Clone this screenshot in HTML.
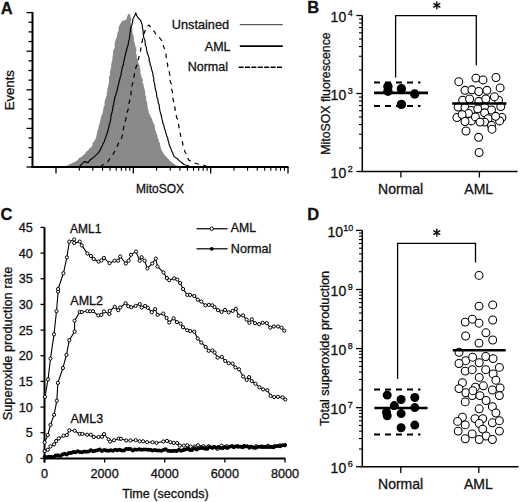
<!DOCTYPE html>
<html><head><meta charset="utf-8"><style>
html,body{margin:0;padding:0;background:#fff;width:520px;height:502px;overflow:hidden}
svg{display:block}
text{font-family:"Liberation Sans", sans-serif;fill:#111;stroke:#111;stroke-width:0.3px}
</style></head><body>
<svg width="520" height="502" viewBox="0 0 520 502">
<rect width="520" height="502" fill="#fff"/>
<text x="0.80" y="13.60" font-size="16.5" text-anchor="start" font-weight="bold" >A</text>
<polygon points="63.00,167.00 64.26,166.40 66.72,165.80 68.00,165.20 69.66,164.52 70.46,163.83 72.09,163.15 73.41,162.47 75.00,161.78 76.20,161.10 77.85,159.98 78.42,158.87 79.68,157.75 81.90,156.63 82.79,155.52 84.20,154.40 85.55,153.24 85.77,152.09 87.31,150.93 88.67,149.77 89.19,148.61 91.03,147.46 91.60,146.30 92.71,144.96 92.43,143.61 93.09,142.27 94.33,140.93 95.44,139.59 95.50,138.24 96.30,136.90 96.37,135.41 96.97,133.92 96.92,132.43 97.50,130.94 98.12,129.46 98.56,127.97 98.65,126.48 99.03,124.99 99.70,123.50 99.83,121.80 100.54,120.10 100.79,118.40 100.93,116.70 101.90,115.00 102.67,113.33 102.76,111.67 103.10,110.00 103.57,108.50 103.39,107.00 104.59,105.50 104.76,104.00 104.27,102.50 105.00,101.00 105.13,99.48 105.86,97.96 106.16,96.44 106.72,94.92 106.46,93.40 107.22,91.88 107.36,90.36 107.26,88.84 107.89,87.32 108.10,85.80 108.75,84.26 108.94,82.72 108.80,81.18 109.12,79.64 108.74,78.10 109.20,76.56 110.04,75.02 109.85,73.48 109.81,71.94 110.40,70.40 110.70,68.86 111.12,67.32 111.34,65.78 111.26,64.24 111.58,62.70 111.91,61.16 112.46,59.62 112.42,58.08 112.53,56.54 112.90,55.00 113.16,53.46 112.92,51.92 113.21,50.38 114.20,48.84 114.78,47.30 114.62,45.76 114.67,44.22 114.70,42.68 115.33,41.14 115.60,39.60 116.66,37.83 116.95,36.05 117.22,34.27 117.70,32.50 118.55,30.70 118.60,28.90 118.91,26.80 119.80,24.70 120.72,23.20 121.60,21.70 123.40,20.50 125.80,19.90 126.90,18.15 127.00,16.40 127.94,15.10 128.70,13.80 130.20,14.50 130.50,17.00 131.15,18.77 131.29,20.55 130.46,22.33 131.10,24.10 130.94,25.72 132.07,27.33 132.26,28.95 132.49,30.57 132.39,32.18 132.90,33.80 133.35,35.46 133.67,37.11 133.98,38.77 133.84,40.43 134.47,42.09 134.75,43.74 135.20,45.40 135.68,47.00 136.21,48.60 136.39,50.20 136.18,51.80 136.31,53.40 136.60,55.00 136.73,56.54 136.85,58.08 137.22,59.62 138.08,61.16 138.30,62.70 138.75,64.24 139.69,65.78 139.67,67.32 140.09,68.86 140.40,70.40 140.42,71.94 140.50,73.48 141.14,75.02 141.24,76.56 141.96,78.10 142.81,79.64 142.76,81.18 142.53,82.72 143.62,84.26 143.50,85.80 144.13,87.32 144.36,88.84 144.85,90.36 144.99,91.88 145.32,93.40 145.14,94.92 146.13,96.44 146.41,97.96 145.83,99.48 146.50,101.00 147.07,102.57 147.31,104.14 147.31,105.71 147.68,107.29 147.92,108.86 148.68,110.43 148.50,112.00 149.14,113.44 150.14,114.88 150.25,116.31 151.47,117.75 152.13,119.19 152.28,120.62 153.04,122.06 153.60,123.50 154.51,124.99 154.74,126.48 154.92,127.97 155.07,129.46 155.63,130.94 156.49,132.43 156.34,133.92 157.60,135.41 157.60,136.90 157.79,138.40 158.94,139.90 158.72,141.40 159.88,142.90 160.05,144.40 160.27,145.90 160.73,147.40 161.32,148.90 161.60,150.40 162.64,151.74 163.27,153.08 164.10,154.42 165.37,155.76 166.30,157.10 167.86,158.18 168.60,159.26 169.07,160.34 170.97,161.42 171.70,162.50 173.32,163.40 174.88,164.30 175.80,165.20 177.19,165.80 179.54,166.40 181.00,167.00" fill="#898989" stroke="none"/>
<polyline points="78.50,167.50 80.50,165.50 82.20,163.60 84.40,161.60 86.00,161.90 87.90,162.70 90.20,160.00 92.02,158.45 94.20,156.90 95.76,155.37 97.18,153.83 98.80,152.30 99.80,150.60 100.74,148.90 101.27,147.20 102.50,145.50 102.98,143.50 104.39,141.50 104.81,139.50 105.80,137.50 106.11,135.75 107.15,134.00 107.28,132.25 108.04,130.50 108.28,128.75 108.90,127.00 109.06,125.25 109.80,123.50 110.24,121.38 110.76,119.25 110.87,117.12 111.20,115.00 112.02,112.50 112.50,110.00 112.96,108.20 112.87,106.40 113.70,104.60 113.92,102.80 114.20,101.00 114.54,99.10 114.82,97.20 115.88,95.30 116.08,93.40 116.73,91.50 117.32,89.60 117.67,87.70 118.00,85.80 118.78,83.88 118.90,81.95 119.67,80.03 119.91,78.10 120.74,76.17 121.19,74.25 121.13,72.33 121.90,70.40 122.07,68.48 122.55,66.55 123.50,64.62 123.56,62.70 124.11,60.78 124.31,58.85 124.88,56.92 125.30,55.00 125.72,53.02 126.20,51.03 126.86,49.05 127.36,47.07 128.08,45.08 128.30,43.10 128.73,41.24 129.20,39.38 129.45,37.52 129.84,35.66 129.80,33.80 130.39,31.50 130.50,29.20 131.20,26.90 131.88,24.88 132.38,22.85 132.76,20.82 132.90,18.80 134.50,16.00 135.80,13.10 137.00,16.00 138.00,17.70 140.40,20.00 141.30,22.30 142.10,24.60 142.49,26.44 142.38,28.28 143.05,30.12 143.11,31.96 143.30,33.80 143.53,35.74 143.75,37.68 144.69,39.62 145.16,41.56 145.20,43.50 145.38,45.42 146.34,47.33 146.54,49.25 146.82,51.17 147.39,53.08 148.00,55.00 148.68,56.92 149.24,58.85 149.14,60.78 150.03,62.70 150.12,64.62 151.08,66.55 151.29,68.48 151.90,70.40 152.55,72.33 153.01,74.25 153.07,76.17 153.80,78.10 153.70,80.03 153.93,81.95 154.68,83.88 155.00,85.80 155.05,87.70 155.54,89.60 156.06,91.50 156.58,93.40 156.63,95.30 156.93,97.20 157.88,99.10 158.00,101.00 158.23,102.80 159.04,104.60 159.36,106.40 159.35,108.20 159.80,110.00 160.23,111.93 160.73,113.86 161.27,115.79 161.70,117.71 162.13,119.64 162.63,121.57 163.00,123.50 163.86,125.28 164.10,127.07 164.60,128.85 165.35,130.63 165.57,132.42 166.30,134.20 166.70,136.08 167.71,137.96 167.93,139.84 168.49,141.72 169.00,143.60 169.33,145.34 170.28,147.09 171.07,148.83 171.35,150.57 172.44,152.31 173.12,154.06 173.70,155.80 174.92,157.12 176.84,158.45 178.25,159.78 179.80,161.10 181.93,162.80 183.80,164.50 185.75,165.00 187.90,165.50 190.00,167.00" fill="none" stroke="#000" stroke-width="1.15"/>
<polyline points="100.00,167.00 102.40,165.20 103.74,164.17 105.17,163.15 106.90,162.12 108.50,161.10 109.22,159.57 110.11,158.04 111.30,156.51 112.62,154.99 113.50,153.46 114.43,151.93 115.20,150.40 115.84,148.71 116.90,147.03 117.56,145.34 118.32,143.65 119.11,141.96 120.03,140.28 121.36,138.59 121.90,136.90 122.52,134.99 122.89,133.07 123.27,131.16 123.23,129.24 123.70,127.33 124.30,125.41 124.60,123.50 125.24,121.38 125.80,119.25 126.29,117.12 126.50,115.00 126.96,112.50 128.00,110.00 128.39,108.20 128.76,106.40 128.96,104.60 129.05,102.80 129.60,101.00 129.87,99.10 129.89,97.20 130.77,95.30 131.01,93.40 131.07,91.50 131.19,89.60 131.90,87.70 131.90,85.80 132.38,83.88 133.02,81.95 133.42,80.03 133.61,78.10 133.96,76.17 134.52,74.25 134.83,72.33 135.30,70.40 135.60,68.48 136.24,66.55 137.13,64.62 137.13,62.70 137.67,60.78 138.61,58.85 138.91,56.92 139.60,55.00 140.07,52.83 140.48,50.65 140.84,48.47 141.40,46.30 142.09,44.42 141.87,42.54 142.36,40.66 142.55,38.78 143.10,36.90 143.79,35.08 144.14,33.25 144.80,31.43 145.50,29.60 147.00,26.50 148.90,25.00 151.00,27.50 153.30,30.20 154.54,31.80 155.31,33.40 156.50,35.00 158.10,35.80 159.34,37.40 160.50,39.00 161.88,40.85 162.70,42.70 163.00,44.54 163.55,46.38 164.25,48.22 165.21,50.06 165.60,51.90 166.01,54.02 166.07,56.15 166.46,58.27 166.90,60.40 167.05,62.40 167.63,64.40 167.72,66.40 168.56,68.40 168.80,70.40 169.38,72.33 169.72,74.25 169.86,76.17 170.32,78.10 169.96,80.03 170.45,81.95 171.23,83.88 171.20,85.80 171.68,87.70 171.71,89.60 172.37,91.50 172.43,93.40 172.86,95.30 172.78,97.20 173.00,99.10 173.50,101.00 173.78,102.80 173.89,104.60 174.38,106.40 175.10,108.20 175.10,110.00 175.47,111.93 175.73,113.86 176.24,115.79 176.81,117.71 177.73,119.64 177.92,121.57 178.50,123.50 178.72,125.41 178.96,127.33 179.95,129.24 179.93,131.16 180.15,133.07 180.42,134.99 181.10,136.90 181.27,138.83 181.84,140.76 182.68,142.69 182.80,144.61 183.21,146.54 184.01,148.47 184.50,150.40 185.12,152.28 186.45,154.16 186.64,156.04 187.72,157.92 188.50,159.80 190.69,161.15 192.50,162.50 194.19,163.00 196.00,163.50 198.34,164.00 200.00,164.50 201.98,164.90 204.00,165.30 205.82,166.15 208.00,167.00" fill="none" stroke="#000" stroke-width="1.2" stroke-dasharray="4.5,4.5"/>
<line x1="32.50" y1="12.00" x2="32.50" y2="168.00" stroke="#000" stroke-width="2" />
<line x1="31.50" y1="167.00" x2="288.50" y2="167.00" stroke="#000" stroke-width="2" />
<line x1="26.50" y1="12.60" x2="32.50" y2="12.60" stroke="#000" stroke-width="1.3" />
<line x1="28.50" y1="22.25" x2="32.50" y2="22.25" stroke="#000" stroke-width="1.3" />
<line x1="28.50" y1="31.90" x2="32.50" y2="31.90" stroke="#000" stroke-width="1.3" />
<line x1="28.50" y1="41.55" x2="32.50" y2="41.55" stroke="#000" stroke-width="1.3" />
<line x1="26.50" y1="51.20" x2="32.50" y2="51.20" stroke="#000" stroke-width="1.3" />
<line x1="28.50" y1="60.85" x2="32.50" y2="60.85" stroke="#000" stroke-width="1.3" />
<line x1="28.50" y1="70.50" x2="32.50" y2="70.50" stroke="#000" stroke-width="1.3" />
<line x1="28.50" y1="80.15" x2="32.50" y2="80.15" stroke="#000" stroke-width="1.3" />
<line x1="26.50" y1="89.80" x2="32.50" y2="89.80" stroke="#000" stroke-width="1.3" />
<line x1="28.50" y1="99.45" x2="32.50" y2="99.45" stroke="#000" stroke-width="1.3" />
<line x1="28.50" y1="109.10" x2="32.50" y2="109.10" stroke="#000" stroke-width="1.3" />
<line x1="28.50" y1="118.75" x2="32.50" y2="118.75" stroke="#000" stroke-width="1.3" />
<line x1="26.50" y1="128.40" x2="32.50" y2="128.40" stroke="#000" stroke-width="1.3" />
<line x1="28.50" y1="138.05" x2="32.50" y2="138.05" stroke="#000" stroke-width="1.3" />
<line x1="28.50" y1="147.70" x2="32.50" y2="147.70" stroke="#000" stroke-width="1.3" />
<line x1="28.50" y1="157.35" x2="32.50" y2="157.35" stroke="#000" stroke-width="1.3" />
<line x1="26.50" y1="167.00" x2="32.50" y2="167.00" stroke="#000" stroke-width="1.3" />
<line x1="56.00" y1="167.00" x2="56.00" y2="173.50" stroke="#000" stroke-width="1.3" />
<line x1="79.28" y1="167.00" x2="79.28" y2="170.80" stroke="#000" stroke-width="1.1" />
<line x1="92.90" y1="167.00" x2="92.90" y2="170.80" stroke="#000" stroke-width="1.1" />
<line x1="102.56" y1="167.00" x2="102.56" y2="170.80" stroke="#000" stroke-width="1.1" />
<line x1="110.05" y1="167.00" x2="110.05" y2="170.80" stroke="#000" stroke-width="1.1" />
<line x1="116.18" y1="167.00" x2="116.18" y2="170.80" stroke="#000" stroke-width="1.1" />
<line x1="121.35" y1="167.00" x2="121.35" y2="170.80" stroke="#000" stroke-width="1.1" />
<line x1="125.84" y1="167.00" x2="125.84" y2="170.80" stroke="#000" stroke-width="1.1" />
<line x1="129.79" y1="167.00" x2="129.79" y2="170.80" stroke="#000" stroke-width="1.1" />
<line x1="133.33" y1="167.00" x2="133.33" y2="173.50" stroke="#000" stroke-width="1.3" />
<line x1="156.61" y1="167.00" x2="156.61" y2="170.80" stroke="#000" stroke-width="1.1" />
<line x1="170.23" y1="167.00" x2="170.23" y2="170.80" stroke="#000" stroke-width="1.1" />
<line x1="179.89" y1="167.00" x2="179.89" y2="170.80" stroke="#000" stroke-width="1.1" />
<line x1="187.39" y1="167.00" x2="187.39" y2="170.80" stroke="#000" stroke-width="1.1" />
<line x1="193.51" y1="167.00" x2="193.51" y2="170.80" stroke="#000" stroke-width="1.1" />
<line x1="198.69" y1="167.00" x2="198.69" y2="170.80" stroke="#000" stroke-width="1.1" />
<line x1="203.17" y1="167.00" x2="203.17" y2="170.80" stroke="#000" stroke-width="1.1" />
<line x1="207.13" y1="167.00" x2="207.13" y2="170.80" stroke="#000" stroke-width="1.1" />
<line x1="210.67" y1="167.00" x2="210.67" y2="173.50" stroke="#000" stroke-width="1.3" />
<line x1="233.95" y1="167.00" x2="233.95" y2="170.80" stroke="#000" stroke-width="1.1" />
<line x1="247.56" y1="167.00" x2="247.56" y2="170.80" stroke="#000" stroke-width="1.1" />
<line x1="257.23" y1="167.00" x2="257.23" y2="170.80" stroke="#000" stroke-width="1.1" />
<line x1="264.72" y1="167.00" x2="264.72" y2="170.80" stroke="#000" stroke-width="1.1" />
<line x1="270.84" y1="167.00" x2="270.84" y2="170.80" stroke="#000" stroke-width="1.1" />
<line x1="276.02" y1="167.00" x2="276.02" y2="170.80" stroke="#000" stroke-width="1.1" />
<line x1="280.51" y1="167.00" x2="280.51" y2="170.80" stroke="#000" stroke-width="1.1" />
<line x1="284.46" y1="167.00" x2="284.46" y2="170.80" stroke="#000" stroke-width="1.1" />
<line x1="288.00" y1="167.00" x2="288.00" y2="173.50" stroke="#000" stroke-width="1.3" />
<text x="160.00" y="193.00" font-size="12" text-anchor="middle" font-weight="normal" >MitoSOX</text>
<text x="13.90" y="90.20" font-size="13.2" text-anchor="middle" font-weight="normal" transform="rotate(-90 13.9 90.2)">Events</text>
<text x="229.00" y="29.00" font-size="12.7" text-anchor="end" font-weight="normal" >Unstained</text>
<text x="230.50" y="50.50" font-size="12.5" text-anchor="end" font-weight="normal" >AML</text>
<text x="228.00" y="71.20" font-size="12.5" text-anchor="end" font-weight="normal" >Normal</text>
<line x1="239.80" y1="24.60" x2="282.80" y2="24.60" stroke="#5a5a5a" stroke-width="1.3" />
<line x1="239.80" y1="46.10" x2="282.80" y2="46.10" stroke="#000" stroke-width="1.7" />
<line x1="238.60" y1="67.30" x2="282.30" y2="67.30" stroke="#000" stroke-width="1.6" stroke-dasharray="5,1.4"/>
<text x="307.30" y="13.40" font-size="16.5" text-anchor="start" font-weight="bold" >B</text>
<line x1="362.30" y1="15.50" x2="362.30" y2="172.10" stroke="#000" stroke-width="1.5" />
<line x1="356.30" y1="171.50" x2="362.30" y2="171.50" stroke="#000" stroke-width="1.3" />
<text x="346.20" y="178.00" font-size="14" text-anchor="end" font-weight="normal" >10</text>
<text x="347.80" y="172.20" font-size="9" text-anchor="start" font-weight="normal" >2</text>
<line x1="356.30" y1="93.50" x2="362.30" y2="93.50" stroke="#000" stroke-width="1.3" />
<text x="346.20" y="100.00" font-size="14" text-anchor="end" font-weight="normal" >10</text>
<text x="347.80" y="94.20" font-size="9" text-anchor="start" font-weight="normal" >3</text>
<line x1="356.30" y1="15.50" x2="362.30" y2="15.50" stroke="#000" stroke-width="1.3" />
<text x="346.20" y="22.00" font-size="14" text-anchor="end" font-weight="normal" >10</text>
<text x="347.80" y="16.20" font-size="9" text-anchor="start" font-weight="normal" >4</text>
<line x1="359.00" y1="148.02" x2="362.30" y2="148.02" stroke="#000" stroke-width="1.1" />
<line x1="359.00" y1="134.28" x2="362.30" y2="134.28" stroke="#000" stroke-width="1.1" />
<line x1="359.00" y1="124.54" x2="362.30" y2="124.54" stroke="#000" stroke-width="1.1" />
<line x1="359.00" y1="116.98" x2="362.30" y2="116.98" stroke="#000" stroke-width="1.1" />
<line x1="359.00" y1="110.80" x2="362.30" y2="110.80" stroke="#000" stroke-width="1.1" />
<line x1="359.00" y1="105.58" x2="362.30" y2="105.58" stroke="#000" stroke-width="1.1" />
<line x1="359.00" y1="101.06" x2="362.30" y2="101.06" stroke="#000" stroke-width="1.1" />
<line x1="359.00" y1="97.07" x2="362.30" y2="97.07" stroke="#000" stroke-width="1.1" />
<line x1="359.00" y1="70.02" x2="362.30" y2="70.02" stroke="#000" stroke-width="1.1" />
<line x1="359.00" y1="56.28" x2="362.30" y2="56.28" stroke="#000" stroke-width="1.1" />
<line x1="359.00" y1="46.54" x2="362.30" y2="46.54" stroke="#000" stroke-width="1.1" />
<line x1="359.00" y1="38.98" x2="362.30" y2="38.98" stroke="#000" stroke-width="1.1" />
<line x1="359.00" y1="32.80" x2="362.30" y2="32.80" stroke="#000" stroke-width="1.1" />
<line x1="359.00" y1="27.58" x2="362.30" y2="27.58" stroke="#000" stroke-width="1.1" />
<line x1="359.00" y1="23.06" x2="362.30" y2="23.06" stroke="#000" stroke-width="1.1" />
<line x1="359.00" y1="19.07" x2="362.30" y2="19.07" stroke="#000" stroke-width="1.1" />
<line x1="361.50" y1="171.50" x2="517.50" y2="171.50" stroke="#000" stroke-width="1.5" />
<line x1="400.90" y1="171.50" x2="400.90" y2="177.50" stroke="#000" stroke-width="1.3" />
<line x1="479.40" y1="171.50" x2="479.40" y2="177.50" stroke="#000" stroke-width="1.3" />
<text x="400.60" y="193.80" font-size="14" text-anchor="middle" font-weight="normal" >Normal</text>
<text x="478.70" y="193.80" font-size="14" text-anchor="middle" font-weight="normal" >AML</text>
<text x="329.50" y="93.50" font-size="12.3" text-anchor="middle" font-weight="normal" transform="rotate(-90 329.5 93.5)">MitoSOX fluorescence</text>
<polyline points="395.6,77.5 395.6,15.6 476.3,15.6 476.3,65.3" fill="none" stroke="#000" stroke-width="1.3"/>
<line x1="436.80" y1="1.90" x2="436.80" y2="8.70" stroke="#111" stroke-width="1.5" stroke-linecap="round"/>
<line x1="433.86" y1="3.60" x2="439.74" y2="7.00" stroke="#111" stroke-width="1.5" stroke-linecap="round"/>
<line x1="433.86" y1="7.00" x2="439.74" y2="3.60" stroke="#111" stroke-width="1.5" stroke-linecap="round"/>
<line x1="374.00" y1="82.50" x2="420.50" y2="82.50" stroke="#000" stroke-width="2" stroke-dasharray="6,5"/>
<line x1="374.00" y1="105.90" x2="420.50" y2="105.90" stroke="#000" stroke-width="2" stroke-dasharray="6,5"/>
<line x1="374.00" y1="92.90" x2="428.00" y2="92.90" stroke="#000" stroke-width="2.6" />
<circle cx="387.9" cy="86.5" r="4.7" fill="#000"/>
<circle cx="387.9" cy="91.2" r="4.7" fill="#000"/>
<circle cx="401.4" cy="88.8" r="4.7" fill="#000"/>
<circle cx="414.7" cy="94" r="4.7" fill="#000"/>
<circle cx="401.4" cy="104.4" r="4.7" fill="#000"/>
<circle cx="462.7" cy="100.2" r="3.95" fill="#fff" stroke="#000" stroke-width="1.05"/>
<circle cx="469.6" cy="99" r="3.95" fill="#fff" stroke="#000" stroke-width="1.05"/>
<circle cx="478.8" cy="101.3" r="3.95" fill="#fff" stroke="#000" stroke-width="1.05"/>
<circle cx="485.8" cy="99" r="3.95" fill="#fff" stroke="#000" stroke-width="1.05"/>
<circle cx="498.5" cy="100.2" r="3.95" fill="#fff" stroke="#000" stroke-width="1.05"/>
<circle cx="458.1" cy="107.1" r="3.95" fill="#fff" stroke="#000" stroke-width="1.05"/>
<circle cx="465" cy="107.7" r="3.95" fill="#fff" stroke="#000" stroke-width="1.05"/>
<circle cx="471.3" cy="110.5" r="3.95" fill="#fff" stroke="#000" stroke-width="1.05"/>
<circle cx="484.6" cy="107.1" r="3.95" fill="#fff" stroke="#000" stroke-width="1.05"/>
<circle cx="491.5" cy="110" r="3.95" fill="#fff" stroke="#000" stroke-width="1.05"/>
<circle cx="500.8" cy="106.5" r="3.95" fill="#fff" stroke="#000" stroke-width="1.05"/>
<circle cx="456.9" cy="117.5" r="3.95" fill="#fff" stroke="#000" stroke-width="1.05"/>
<circle cx="468.5" cy="113.4" r="3.95" fill="#fff" stroke="#000" stroke-width="1.05"/>
<circle cx="484.6" cy="112.8" r="3.95" fill="#fff" stroke="#000" stroke-width="1.05"/>
<circle cx="488.1" cy="118.6" r="3.95" fill="#fff" stroke="#000" stroke-width="1.05"/>
<circle cx="501.9" cy="117.5" r="3.95" fill="#fff" stroke="#000" stroke-width="1.05"/>
<circle cx="471.3" cy="120.9" r="3.95" fill="#fff" stroke="#000" stroke-width="1.05"/>
<circle cx="484.6" cy="122.1" r="3.95" fill="#fff" stroke="#000" stroke-width="1.05"/>
<circle cx="499.6" cy="120.9" r="3.95" fill="#fff" stroke="#000" stroke-width="1.05"/>
<circle cx="458.8" cy="81.7" r="3.95" fill="#fff" stroke="#000" stroke-width="1.05"/>
<circle cx="475.9" cy="78.1" r="3.95" fill="#fff" stroke="#000" stroke-width="1.05"/>
<circle cx="483" cy="79.9" r="3.95" fill="#fff" stroke="#000" stroke-width="1.05"/>
<circle cx="496" cy="77.5" r="3.95" fill="#fff" stroke="#000" stroke-width="1.05"/>
<circle cx="500.1" cy="87.9" r="3.95" fill="#fff" stroke="#000" stroke-width="1.05"/>
<circle cx="465" cy="90.3" r="3.95" fill="#fff" stroke="#000" stroke-width="1.05"/>
<circle cx="471.9" cy="89.8" r="3.95" fill="#fff" stroke="#000" stroke-width="1.05"/>
<circle cx="478.8" cy="91.5" r="3.95" fill="#fff" stroke="#000" stroke-width="1.05"/>
<circle cx="486.9" cy="90.3" r="3.95" fill="#fff" stroke="#000" stroke-width="1.05"/>
<circle cx="494.4" cy="96.7" r="3.95" fill="#fff" stroke="#000" stroke-width="1.05"/>
<circle cx="477.7" cy="108.8" r="3.95" fill="#fff" stroke="#000" stroke-width="1.05"/>
<circle cx="462.1" cy="114.6" r="3.95" fill="#fff" stroke="#000" stroke-width="1.05"/>
<circle cx="475.4" cy="116.9" r="3.95" fill="#fff" stroke="#000" stroke-width="1.05"/>
<circle cx="495.6" cy="116.3" r="3.95" fill="#fff" stroke="#000" stroke-width="1.05"/>
<circle cx="465" cy="121.5" r="3.95" fill="#fff" stroke="#000" stroke-width="1.05"/>
<circle cx="480" cy="122.1" r="3.95" fill="#fff" stroke="#000" stroke-width="1.05"/>
<circle cx="491.5" cy="125.5" r="3.95" fill="#fff" stroke="#000" stroke-width="1.05"/>
<circle cx="466" cy="131" r="3.95" fill="#fff" stroke="#000" stroke-width="1.05"/>
<circle cx="492" cy="129.2" r="3.95" fill="#fff" stroke="#000" stroke-width="1.05"/>
<circle cx="478.6" cy="137.3" r="3.95" fill="#fff" stroke="#000" stroke-width="1.05"/>
<circle cx="479.1" cy="152.5" r="3.95" fill="#fff" stroke="#000" stroke-width="1.05"/>
<line x1="452.20" y1="103.50" x2="506.40" y2="103.50" stroke="#000" stroke-width="2.6" />
<text x="0.60" y="220.30" font-size="16.5" text-anchor="start" font-weight="bold" >C</text>
<line x1="44.50" y1="227.40" x2="44.50" y2="462.50" stroke="#000" stroke-width="2" />
<line x1="43.50" y1="458.40" x2="285.40" y2="458.40" stroke="#000" stroke-width="2" />
<line x1="40.50" y1="458.40" x2="44.50" y2="458.40" stroke="#000" stroke-width="1.3" />
<text x="32.80" y="462.90" font-size="12.7" text-anchor="end" font-weight="normal" >0</text>
<line x1="40.50" y1="432.73" x2="44.50" y2="432.73" stroke="#000" stroke-width="1.3" />
<text x="32.80" y="437.23" font-size="12.7" text-anchor="end" font-weight="normal" >5</text>
<line x1="40.50" y1="407.07" x2="44.50" y2="407.07" stroke="#000" stroke-width="1.3" />
<text x="32.80" y="411.57" font-size="12.7" text-anchor="end" font-weight="normal" >10</text>
<line x1="40.50" y1="381.40" x2="44.50" y2="381.40" stroke="#000" stroke-width="1.3" />
<text x="32.80" y="385.90" font-size="12.7" text-anchor="end" font-weight="normal" >15</text>
<line x1="40.50" y1="355.74" x2="44.50" y2="355.74" stroke="#000" stroke-width="1.3" />
<text x="32.80" y="360.24" font-size="12.7" text-anchor="end" font-weight="normal" >20</text>
<line x1="40.50" y1="330.07" x2="44.50" y2="330.07" stroke="#000" stroke-width="1.3" />
<text x="32.80" y="334.57" font-size="12.7" text-anchor="end" font-weight="normal" >25</text>
<line x1="40.50" y1="304.41" x2="44.50" y2="304.41" stroke="#000" stroke-width="1.3" />
<text x="32.80" y="308.91" font-size="12.7" text-anchor="end" font-weight="normal" >30</text>
<line x1="40.50" y1="278.75" x2="44.50" y2="278.75" stroke="#000" stroke-width="1.3" />
<text x="32.80" y="283.25" font-size="12.7" text-anchor="end" font-weight="normal" >35</text>
<line x1="40.50" y1="253.08" x2="44.50" y2="253.08" stroke="#000" stroke-width="1.3" />
<text x="32.80" y="257.58" font-size="12.7" text-anchor="end" font-weight="normal" >40</text>
<line x1="40.50" y1="227.41" x2="44.50" y2="227.41" stroke="#000" stroke-width="1.3" />
<text x="32.80" y="231.91" font-size="12.7" text-anchor="end" font-weight="normal" >45</text>
<line x1="44.50" y1="458.40" x2="44.50" y2="462.50" stroke="#000" stroke-width="1.3" />
<text x="44.50" y="477.50" font-size="12.7" text-anchor="middle" font-weight="normal" >0</text>
<line x1="104.62" y1="458.40" x2="104.62" y2="462.50" stroke="#000" stroke-width="1.3" />
<text x="104.62" y="477.50" font-size="12.7" text-anchor="middle" font-weight="normal" >2000</text>
<line x1="164.75" y1="458.40" x2="164.75" y2="462.50" stroke="#000" stroke-width="1.3" />
<text x="164.75" y="477.50" font-size="12.7" text-anchor="middle" font-weight="normal" >4000</text>
<line x1="224.88" y1="458.40" x2="224.88" y2="462.50" stroke="#000" stroke-width="1.3" />
<text x="224.88" y="477.50" font-size="12.7" text-anchor="middle" font-weight="normal" >6000</text>
<line x1="285.00" y1="458.40" x2="285.00" y2="462.50" stroke="#000" stroke-width="1.3" />
<text x="285.00" y="477.50" font-size="12.7" text-anchor="middle" font-weight="normal" >8000</text>
<text x="165.50" y="497.80" font-size="12.6" text-anchor="middle" font-weight="normal" >Time (seconds)</text>
<text x="12.00" y="343.50" font-size="12.8" text-anchor="middle" font-weight="normal" transform="rotate(-90 12 343.5)">Superoxide production rate</text>
<text x="70.00" y="232.60" font-size="12" text-anchor="start" font-weight="normal" >AML1</text>
<text x="70.30" y="304.60" font-size="12.5" text-anchor="start" font-weight="normal" >AML2</text>
<text x="70.50" y="423.10" font-size="12.5" text-anchor="start" font-weight="normal" >AML3</text>
<line x1="196.50" y1="228.75" x2="227.60" y2="228.75" stroke="#000" stroke-width="1.2" />
<circle cx="211.7" cy="228.75" r="1.7" fill="#fff" stroke="#000" stroke-width="1"/>
<text x="230.80" y="232.30" font-size="12.3" text-anchor="start" font-weight="normal" >AML</text>
<line x1="196.50" y1="248.80" x2="227.60" y2="248.80" stroke="#000" stroke-width="1.2" />
<circle cx="211.7" cy="248.8" r="1.9" fill="#000"/>
<text x="230.80" y="253.10" font-size="12.6" text-anchor="start" font-weight="normal" >Normal</text>
<polyline points="45.00,396.90 48.00,379.50 50.50,358.60 54.00,334.40 56.50,311.20 58.10,291.70 58.10,289.00 63.40,273.30 66.90,257.40 69.30,241.60 74.20,239.50 74.20,243.00 79.70,241.60 81.80,245.40 87.40,253.50 90.90,256.00 93.70,259.00 98.60,261.60 101.40,260.40 103.90,257.90 109.50,263.20 114.60,260.70 118.10,260.70 120.20,256.50 125.80,263.50 128.60,260.70 131.00,254.80 136.00,251.60 139.70,260.70 141.60,257.20 144.60,260.70 147.40,268.40 152.30,263.50 155.80,258.60 157.50,266.50 163.50,272.50 166.90,278.10 169.20,280.20 174.10,278.40 177.30,279.50 180.10,283.00 183.10,289.00 187.30,294.90 190.10,294.90 194.30,296.00 197.80,299.70 201.30,301.60 205.40,305.30 208.90,304.90 212.40,305.30 214.50,307.10 218.00,310.20 221.50,311.90 225.00,309.90 228.70,312.30 232.70,310.90 235.90,308.80 238.70,315.80 243.10,315.40 246.60,319.60 249.40,322.80 251.80,319.30 255.00,323.20 259.20,324.20 262.70,322.80 266.80,323.20 270.30,327.70 273.80,326.50 278.00,326.50 281.50,327.70 284.30,330.70" fill="none" stroke="#000" stroke-width="1.1"/>
<polyline points="44.70,442.40 47.80,435.00 50.50,424.90 54.10,414.80 56.80,400.70 57.90,382.90 62.90,368.00 66.50,354.90 69.30,340.20 74.60,331.60 74.60,320.70 79.70,312.00 81.80,312.00 87.40,311.20 90.20,311.20 93.00,311.20 98.30,315.40 101.30,314.90 104.00,311.50 109.40,314.00 109.70,310.90 114.80,306.80 118.20,310.20 120.20,307.50 125.60,303.20 128.30,306.20 131.20,307.20 135.70,305.90 139.70,304.10 141.70,307.50 145.10,305.90 147.80,307.80 151.80,312.20 155.20,309.10 157.60,314.90 163.30,313.60 166.60,318.00 169.20,322.50 173.60,318.30 176.90,322.10 180.60,323.60 183.00,327.20 187.20,330.20 190.20,331.00 194.30,331.70 197.70,338.50 201.30,342.50 205.70,346.90 208.70,350.80 212.30,350.50 214.60,352.50 217.60,357.60 221.80,357.00 225.20,360.90 228.70,363.20 232.60,363.60 235.40,367.50 239.00,369.30 243.10,376.50 246.70,379.90 249.10,377.10 251.70,381.00 255.50,383.70 259.50,387.30 263.10,389.40 267.30,390.20 270.60,395.90 274.20,397.10 278.00,396.80 282.60,397.40 285.30,399.50" fill="none" stroke="#000" stroke-width="1.1"/>
<polyline points="44.70,451.10 47.80,449.80 50.50,446.40 54.10,444.40 56.20,441.00 58.80,438.40 63.60,435.70 66.90,435.00 69.30,430.30 74.70,430.70 79.70,433.90 82.40,433.90 87.10,434.70 90.90,434.70 93.80,437.00 98.50,437.00 102.00,436.80 104.00,434.10 108.70,439.50 110.10,441.50 114.10,440.20 118.80,438.60 121.00,438.80 126.20,440.50 130.30,440.50 135.70,440.20 139.70,441.30 143.10,441.30 147.10,442.20 152.50,442.20 156.50,442.90 163.30,441.50 167.00,440.90 170.40,442.20 173.70,442.90 177.10,443.10 179.80,445.60 183.80,445.60 187.20,445.30 190.60,446.60 194.60,446.60 198.00,445.30 203.40,446.20 208.70,446.20 212.80,447.60 217.50,448.90 221.50,445.60 226.90,446.20 232.30,446.20 238.00,446.50 244.00,446.00 250.00,446.80 256.00,446.20 262.00,446.50 268.00,445.80 274.00,446.40 280.00,445.50 285.00,445.20" fill="none" stroke="#000" stroke-width="1.1"/>
<circle cx="45.00" cy="396.90" r="1.6" fill="#fff" stroke="#000" stroke-width="1"/>
<circle cx="48.00" cy="379.50" r="1.6" fill="#fff" stroke="#000" stroke-width="1"/>
<circle cx="50.50" cy="358.60" r="1.6" fill="#fff" stroke="#000" stroke-width="1"/>
<circle cx="54.00" cy="334.40" r="1.6" fill="#fff" stroke="#000" stroke-width="1"/>
<circle cx="56.50" cy="311.20" r="1.6" fill="#fff" stroke="#000" stroke-width="1"/>
<circle cx="58.10" cy="291.70" r="1.6" fill="#fff" stroke="#000" stroke-width="1"/>
<circle cx="58.10" cy="289.00" r="1.6" fill="#fff" stroke="#000" stroke-width="1"/>
<circle cx="63.40" cy="273.30" r="1.6" fill="#fff" stroke="#000" stroke-width="1"/>
<circle cx="66.90" cy="257.40" r="1.6" fill="#fff" stroke="#000" stroke-width="1"/>
<circle cx="69.30" cy="241.60" r="1.6" fill="#fff" stroke="#000" stroke-width="1"/>
<circle cx="74.20" cy="239.50" r="1.6" fill="#fff" stroke="#000" stroke-width="1"/>
<circle cx="74.20" cy="243.00" r="1.6" fill="#fff" stroke="#000" stroke-width="1"/>
<circle cx="79.70" cy="241.60" r="1.6" fill="#fff" stroke="#000" stroke-width="1"/>
<circle cx="81.80" cy="245.40" r="1.6" fill="#fff" stroke="#000" stroke-width="1"/>
<circle cx="87.40" cy="253.50" r="1.6" fill="#fff" stroke="#000" stroke-width="1"/>
<circle cx="90.90" cy="256.00" r="1.6" fill="#fff" stroke="#000" stroke-width="1"/>
<circle cx="93.70" cy="259.00" r="1.6" fill="#fff" stroke="#000" stroke-width="1"/>
<circle cx="98.60" cy="261.60" r="1.6" fill="#fff" stroke="#000" stroke-width="1"/>
<circle cx="101.40" cy="260.40" r="1.6" fill="#fff" stroke="#000" stroke-width="1"/>
<circle cx="103.90" cy="257.90" r="1.6" fill="#fff" stroke="#000" stroke-width="1"/>
<circle cx="109.50" cy="263.20" r="1.6" fill="#fff" stroke="#000" stroke-width="1"/>
<circle cx="114.60" cy="260.70" r="1.6" fill="#fff" stroke="#000" stroke-width="1"/>
<circle cx="118.10" cy="260.70" r="1.6" fill="#fff" stroke="#000" stroke-width="1"/>
<circle cx="120.20" cy="256.50" r="1.6" fill="#fff" stroke="#000" stroke-width="1"/>
<circle cx="125.80" cy="263.50" r="1.6" fill="#fff" stroke="#000" stroke-width="1"/>
<circle cx="128.60" cy="260.70" r="1.6" fill="#fff" stroke="#000" stroke-width="1"/>
<circle cx="131.00" cy="254.80" r="1.6" fill="#fff" stroke="#000" stroke-width="1"/>
<circle cx="136.00" cy="251.60" r="1.6" fill="#fff" stroke="#000" stroke-width="1"/>
<circle cx="139.70" cy="260.70" r="1.6" fill="#fff" stroke="#000" stroke-width="1"/>
<circle cx="141.60" cy="257.20" r="1.6" fill="#fff" stroke="#000" stroke-width="1"/>
<circle cx="144.60" cy="260.70" r="1.6" fill="#fff" stroke="#000" stroke-width="1"/>
<circle cx="147.40" cy="268.40" r="1.6" fill="#fff" stroke="#000" stroke-width="1"/>
<circle cx="152.30" cy="263.50" r="1.6" fill="#fff" stroke="#000" stroke-width="1"/>
<circle cx="155.80" cy="258.60" r="1.6" fill="#fff" stroke="#000" stroke-width="1"/>
<circle cx="157.50" cy="266.50" r="1.6" fill="#fff" stroke="#000" stroke-width="1"/>
<circle cx="163.50" cy="272.50" r="1.6" fill="#fff" stroke="#000" stroke-width="1"/>
<circle cx="166.90" cy="278.10" r="1.6" fill="#fff" stroke="#000" stroke-width="1"/>
<circle cx="169.20" cy="280.20" r="1.6" fill="#fff" stroke="#000" stroke-width="1"/>
<circle cx="174.10" cy="278.40" r="1.6" fill="#fff" stroke="#000" stroke-width="1"/>
<circle cx="177.30" cy="279.50" r="1.6" fill="#fff" stroke="#000" stroke-width="1"/>
<circle cx="180.10" cy="283.00" r="1.6" fill="#fff" stroke="#000" stroke-width="1"/>
<circle cx="183.10" cy="289.00" r="1.6" fill="#fff" stroke="#000" stroke-width="1"/>
<circle cx="187.30" cy="294.90" r="1.6" fill="#fff" stroke="#000" stroke-width="1"/>
<circle cx="190.10" cy="294.90" r="1.6" fill="#fff" stroke="#000" stroke-width="1"/>
<circle cx="194.30" cy="296.00" r="1.6" fill="#fff" stroke="#000" stroke-width="1"/>
<circle cx="197.80" cy="299.70" r="1.6" fill="#fff" stroke="#000" stroke-width="1"/>
<circle cx="201.30" cy="301.60" r="1.6" fill="#fff" stroke="#000" stroke-width="1"/>
<circle cx="205.40" cy="305.30" r="1.6" fill="#fff" stroke="#000" stroke-width="1"/>
<circle cx="208.90" cy="304.90" r="1.6" fill="#fff" stroke="#000" stroke-width="1"/>
<circle cx="212.40" cy="305.30" r="1.6" fill="#fff" stroke="#000" stroke-width="1"/>
<circle cx="214.50" cy="307.10" r="1.6" fill="#fff" stroke="#000" stroke-width="1"/>
<circle cx="218.00" cy="310.20" r="1.6" fill="#fff" stroke="#000" stroke-width="1"/>
<circle cx="221.50" cy="311.90" r="1.6" fill="#fff" stroke="#000" stroke-width="1"/>
<circle cx="225.00" cy="309.90" r="1.6" fill="#fff" stroke="#000" stroke-width="1"/>
<circle cx="228.70" cy="312.30" r="1.6" fill="#fff" stroke="#000" stroke-width="1"/>
<circle cx="232.70" cy="310.90" r="1.6" fill="#fff" stroke="#000" stroke-width="1"/>
<circle cx="235.90" cy="308.80" r="1.6" fill="#fff" stroke="#000" stroke-width="1"/>
<circle cx="238.70" cy="315.80" r="1.6" fill="#fff" stroke="#000" stroke-width="1"/>
<circle cx="243.10" cy="315.40" r="1.6" fill="#fff" stroke="#000" stroke-width="1"/>
<circle cx="246.60" cy="319.60" r="1.6" fill="#fff" stroke="#000" stroke-width="1"/>
<circle cx="249.40" cy="322.80" r="1.6" fill="#fff" stroke="#000" stroke-width="1"/>
<circle cx="251.80" cy="319.30" r="1.6" fill="#fff" stroke="#000" stroke-width="1"/>
<circle cx="255.00" cy="323.20" r="1.6" fill="#fff" stroke="#000" stroke-width="1"/>
<circle cx="259.20" cy="324.20" r="1.6" fill="#fff" stroke="#000" stroke-width="1"/>
<circle cx="262.70" cy="322.80" r="1.6" fill="#fff" stroke="#000" stroke-width="1"/>
<circle cx="266.80" cy="323.20" r="1.6" fill="#fff" stroke="#000" stroke-width="1"/>
<circle cx="270.30" cy="327.70" r="1.6" fill="#fff" stroke="#000" stroke-width="1"/>
<circle cx="273.80" cy="326.50" r="1.6" fill="#fff" stroke="#000" stroke-width="1"/>
<circle cx="278.00" cy="326.50" r="1.6" fill="#fff" stroke="#000" stroke-width="1"/>
<circle cx="281.50" cy="327.70" r="1.6" fill="#fff" stroke="#000" stroke-width="1"/>
<circle cx="284.30" cy="330.70" r="1.6" fill="#fff" stroke="#000" stroke-width="1"/>
<circle cx="44.70" cy="442.40" r="1.6" fill="#fff" stroke="#000" stroke-width="1"/>
<circle cx="47.80" cy="435.00" r="1.6" fill="#fff" stroke="#000" stroke-width="1"/>
<circle cx="50.50" cy="424.90" r="1.6" fill="#fff" stroke="#000" stroke-width="1"/>
<circle cx="54.10" cy="414.80" r="1.6" fill="#fff" stroke="#000" stroke-width="1"/>
<circle cx="56.80" cy="400.70" r="1.6" fill="#fff" stroke="#000" stroke-width="1"/>
<circle cx="57.90" cy="382.90" r="1.6" fill="#fff" stroke="#000" stroke-width="1"/>
<circle cx="62.90" cy="368.00" r="1.6" fill="#fff" stroke="#000" stroke-width="1"/>
<circle cx="66.50" cy="354.90" r="1.6" fill="#fff" stroke="#000" stroke-width="1"/>
<circle cx="69.30" cy="340.20" r="1.6" fill="#fff" stroke="#000" stroke-width="1"/>
<circle cx="74.60" cy="331.60" r="1.6" fill="#fff" stroke="#000" stroke-width="1"/>
<circle cx="74.60" cy="320.70" r="1.6" fill="#fff" stroke="#000" stroke-width="1"/>
<circle cx="79.70" cy="312.00" r="1.6" fill="#fff" stroke="#000" stroke-width="1"/>
<circle cx="81.80" cy="312.00" r="1.6" fill="#fff" stroke="#000" stroke-width="1"/>
<circle cx="87.40" cy="311.20" r="1.6" fill="#fff" stroke="#000" stroke-width="1"/>
<circle cx="90.20" cy="311.20" r="1.6" fill="#fff" stroke="#000" stroke-width="1"/>
<circle cx="93.00" cy="311.20" r="1.6" fill="#fff" stroke="#000" stroke-width="1"/>
<circle cx="98.30" cy="315.40" r="1.6" fill="#fff" stroke="#000" stroke-width="1"/>
<circle cx="101.30" cy="314.90" r="1.6" fill="#fff" stroke="#000" stroke-width="1"/>
<circle cx="104.00" cy="311.50" r="1.6" fill="#fff" stroke="#000" stroke-width="1"/>
<circle cx="109.40" cy="314.00" r="1.6" fill="#fff" stroke="#000" stroke-width="1"/>
<circle cx="109.70" cy="310.90" r="1.6" fill="#fff" stroke="#000" stroke-width="1"/>
<circle cx="114.80" cy="306.80" r="1.6" fill="#fff" stroke="#000" stroke-width="1"/>
<circle cx="118.20" cy="310.20" r="1.6" fill="#fff" stroke="#000" stroke-width="1"/>
<circle cx="120.20" cy="307.50" r="1.6" fill="#fff" stroke="#000" stroke-width="1"/>
<circle cx="125.60" cy="303.20" r="1.6" fill="#fff" stroke="#000" stroke-width="1"/>
<circle cx="128.30" cy="306.20" r="1.6" fill="#fff" stroke="#000" stroke-width="1"/>
<circle cx="131.20" cy="307.20" r="1.6" fill="#fff" stroke="#000" stroke-width="1"/>
<circle cx="135.70" cy="305.90" r="1.6" fill="#fff" stroke="#000" stroke-width="1"/>
<circle cx="139.70" cy="304.10" r="1.6" fill="#fff" stroke="#000" stroke-width="1"/>
<circle cx="141.70" cy="307.50" r="1.6" fill="#fff" stroke="#000" stroke-width="1"/>
<circle cx="145.10" cy="305.90" r="1.6" fill="#fff" stroke="#000" stroke-width="1"/>
<circle cx="147.80" cy="307.80" r="1.6" fill="#fff" stroke="#000" stroke-width="1"/>
<circle cx="151.80" cy="312.20" r="1.6" fill="#fff" stroke="#000" stroke-width="1"/>
<circle cx="155.20" cy="309.10" r="1.6" fill="#fff" stroke="#000" stroke-width="1"/>
<circle cx="157.60" cy="314.90" r="1.6" fill="#fff" stroke="#000" stroke-width="1"/>
<circle cx="163.30" cy="313.60" r="1.6" fill="#fff" stroke="#000" stroke-width="1"/>
<circle cx="166.60" cy="318.00" r="1.6" fill="#fff" stroke="#000" stroke-width="1"/>
<circle cx="169.20" cy="322.50" r="1.6" fill="#fff" stroke="#000" stroke-width="1"/>
<circle cx="173.60" cy="318.30" r="1.6" fill="#fff" stroke="#000" stroke-width="1"/>
<circle cx="176.90" cy="322.10" r="1.6" fill="#fff" stroke="#000" stroke-width="1"/>
<circle cx="180.60" cy="323.60" r="1.6" fill="#fff" stroke="#000" stroke-width="1"/>
<circle cx="183.00" cy="327.20" r="1.6" fill="#fff" stroke="#000" stroke-width="1"/>
<circle cx="187.20" cy="330.20" r="1.6" fill="#fff" stroke="#000" stroke-width="1"/>
<circle cx="190.20" cy="331.00" r="1.6" fill="#fff" stroke="#000" stroke-width="1"/>
<circle cx="194.30" cy="331.70" r="1.6" fill="#fff" stroke="#000" stroke-width="1"/>
<circle cx="197.70" cy="338.50" r="1.6" fill="#fff" stroke="#000" stroke-width="1"/>
<circle cx="201.30" cy="342.50" r="1.6" fill="#fff" stroke="#000" stroke-width="1"/>
<circle cx="205.70" cy="346.90" r="1.6" fill="#fff" stroke="#000" stroke-width="1"/>
<circle cx="208.70" cy="350.80" r="1.6" fill="#fff" stroke="#000" stroke-width="1"/>
<circle cx="212.30" cy="350.50" r="1.6" fill="#fff" stroke="#000" stroke-width="1"/>
<circle cx="214.60" cy="352.50" r="1.6" fill="#fff" stroke="#000" stroke-width="1"/>
<circle cx="217.60" cy="357.60" r="1.6" fill="#fff" stroke="#000" stroke-width="1"/>
<circle cx="221.80" cy="357.00" r="1.6" fill="#fff" stroke="#000" stroke-width="1"/>
<circle cx="225.20" cy="360.90" r="1.6" fill="#fff" stroke="#000" stroke-width="1"/>
<circle cx="228.70" cy="363.20" r="1.6" fill="#fff" stroke="#000" stroke-width="1"/>
<circle cx="232.60" cy="363.60" r="1.6" fill="#fff" stroke="#000" stroke-width="1"/>
<circle cx="235.40" cy="367.50" r="1.6" fill="#fff" stroke="#000" stroke-width="1"/>
<circle cx="239.00" cy="369.30" r="1.6" fill="#fff" stroke="#000" stroke-width="1"/>
<circle cx="243.10" cy="376.50" r="1.6" fill="#fff" stroke="#000" stroke-width="1"/>
<circle cx="246.70" cy="379.90" r="1.6" fill="#fff" stroke="#000" stroke-width="1"/>
<circle cx="249.10" cy="377.10" r="1.6" fill="#fff" stroke="#000" stroke-width="1"/>
<circle cx="251.70" cy="381.00" r="1.6" fill="#fff" stroke="#000" stroke-width="1"/>
<circle cx="255.50" cy="383.70" r="1.6" fill="#fff" stroke="#000" stroke-width="1"/>
<circle cx="259.50" cy="387.30" r="1.6" fill="#fff" stroke="#000" stroke-width="1"/>
<circle cx="263.10" cy="389.40" r="1.6" fill="#fff" stroke="#000" stroke-width="1"/>
<circle cx="267.30" cy="390.20" r="1.6" fill="#fff" stroke="#000" stroke-width="1"/>
<circle cx="270.60" cy="395.90" r="1.6" fill="#fff" stroke="#000" stroke-width="1"/>
<circle cx="274.20" cy="397.10" r="1.6" fill="#fff" stroke="#000" stroke-width="1"/>
<circle cx="278.00" cy="396.80" r="1.6" fill="#fff" stroke="#000" stroke-width="1"/>
<circle cx="282.60" cy="397.40" r="1.6" fill="#fff" stroke="#000" stroke-width="1"/>
<circle cx="285.30" cy="399.50" r="1.6" fill="#fff" stroke="#000" stroke-width="1"/>
<circle cx="44.70" cy="451.10" r="1.6" fill="#fff" stroke="#000" stroke-width="1"/>
<circle cx="47.80" cy="449.80" r="1.6" fill="#fff" stroke="#000" stroke-width="1"/>
<circle cx="50.50" cy="446.40" r="1.6" fill="#fff" stroke="#000" stroke-width="1"/>
<circle cx="54.10" cy="444.40" r="1.6" fill="#fff" stroke="#000" stroke-width="1"/>
<circle cx="56.20" cy="441.00" r="1.6" fill="#fff" stroke="#000" stroke-width="1"/>
<circle cx="58.80" cy="438.40" r="1.6" fill="#fff" stroke="#000" stroke-width="1"/>
<circle cx="63.60" cy="435.70" r="1.6" fill="#fff" stroke="#000" stroke-width="1"/>
<circle cx="66.90" cy="435.00" r="1.6" fill="#fff" stroke="#000" stroke-width="1"/>
<circle cx="69.30" cy="430.30" r="1.6" fill="#fff" stroke="#000" stroke-width="1"/>
<circle cx="74.70" cy="430.70" r="1.6" fill="#fff" stroke="#000" stroke-width="1"/>
<circle cx="79.70" cy="433.90" r="1.6" fill="#fff" stroke="#000" stroke-width="1"/>
<circle cx="82.40" cy="433.90" r="1.6" fill="#fff" stroke="#000" stroke-width="1"/>
<circle cx="87.10" cy="434.70" r="1.6" fill="#fff" stroke="#000" stroke-width="1"/>
<circle cx="90.90" cy="434.70" r="1.6" fill="#fff" stroke="#000" stroke-width="1"/>
<circle cx="93.80" cy="437.00" r="1.6" fill="#fff" stroke="#000" stroke-width="1"/>
<circle cx="98.50" cy="437.00" r="1.6" fill="#fff" stroke="#000" stroke-width="1"/>
<circle cx="102.00" cy="436.80" r="1.6" fill="#fff" stroke="#000" stroke-width="1"/>
<circle cx="104.00" cy="434.10" r="1.6" fill="#fff" stroke="#000" stroke-width="1"/>
<circle cx="108.70" cy="439.50" r="1.6" fill="#fff" stroke="#000" stroke-width="1"/>
<circle cx="110.10" cy="441.50" r="1.6" fill="#fff" stroke="#000" stroke-width="1"/>
<circle cx="114.10" cy="440.20" r="1.6" fill="#fff" stroke="#000" stroke-width="1"/>
<circle cx="118.80" cy="438.60" r="1.6" fill="#fff" stroke="#000" stroke-width="1"/>
<circle cx="121.00" cy="438.80" r="1.6" fill="#fff" stroke="#000" stroke-width="1"/>
<circle cx="126.20" cy="440.50" r="1.6" fill="#fff" stroke="#000" stroke-width="1"/>
<circle cx="130.30" cy="440.50" r="1.6" fill="#fff" stroke="#000" stroke-width="1"/>
<circle cx="135.70" cy="440.20" r="1.6" fill="#fff" stroke="#000" stroke-width="1"/>
<circle cx="139.70" cy="441.30" r="1.6" fill="#fff" stroke="#000" stroke-width="1"/>
<circle cx="143.10" cy="441.30" r="1.6" fill="#fff" stroke="#000" stroke-width="1"/>
<circle cx="147.10" cy="442.20" r="1.6" fill="#fff" stroke="#000" stroke-width="1"/>
<circle cx="152.50" cy="442.20" r="1.6" fill="#fff" stroke="#000" stroke-width="1"/>
<circle cx="156.50" cy="442.90" r="1.6" fill="#fff" stroke="#000" stroke-width="1"/>
<circle cx="163.30" cy="441.50" r="1.6" fill="#fff" stroke="#000" stroke-width="1"/>
<circle cx="167.00" cy="440.90" r="1.6" fill="#fff" stroke="#000" stroke-width="1"/>
<circle cx="170.40" cy="442.20" r="1.6" fill="#fff" stroke="#000" stroke-width="1"/>
<circle cx="173.70" cy="442.90" r="1.6" fill="#fff" stroke="#000" stroke-width="1"/>
<circle cx="177.10" cy="443.10" r="1.6" fill="#fff" stroke="#000" stroke-width="1"/>
<circle cx="179.80" cy="445.60" r="1.6" fill="#fff" stroke="#000" stroke-width="1"/>
<circle cx="183.80" cy="445.60" r="1.6" fill="#fff" stroke="#000" stroke-width="1"/>
<circle cx="187.20" cy="445.30" r="1.6" fill="#fff" stroke="#000" stroke-width="1"/>
<circle cx="190.60" cy="446.60" r="1.6" fill="#fff" stroke="#000" stroke-width="1"/>
<circle cx="194.60" cy="446.60" r="1.6" fill="#fff" stroke="#000" stroke-width="1"/>
<circle cx="198.00" cy="445.30" r="1.6" fill="#fff" stroke="#000" stroke-width="1"/>
<circle cx="203.40" cy="446.20" r="1.6" fill="#fff" stroke="#000" stroke-width="1"/>
<circle cx="208.70" cy="446.20" r="1.6" fill="#fff" stroke="#000" stroke-width="1"/>
<circle cx="212.80" cy="447.60" r="1.6" fill="#fff" stroke="#000" stroke-width="1"/>
<circle cx="217.50" cy="448.90" r="1.6" fill="#fff" stroke="#000" stroke-width="1"/>
<circle cx="221.50" cy="445.60" r="1.6" fill="#fff" stroke="#000" stroke-width="1"/>
<circle cx="226.90" cy="446.20" r="1.6" fill="#fff" stroke="#000" stroke-width="1"/>
<circle cx="232.30" cy="446.20" r="1.6" fill="#fff" stroke="#000" stroke-width="1"/>
<circle cx="238.00" cy="446.50" r="1.6" fill="#fff" stroke="#000" stroke-width="1"/>
<circle cx="244.00" cy="446.00" r="1.6" fill="#fff" stroke="#000" stroke-width="1"/>
<circle cx="250.00" cy="446.80" r="1.6" fill="#fff" stroke="#000" stroke-width="1"/>
<circle cx="256.00" cy="446.20" r="1.6" fill="#fff" stroke="#000" stroke-width="1"/>
<circle cx="262.00" cy="446.50" r="1.6" fill="#fff" stroke="#000" stroke-width="1"/>
<circle cx="268.00" cy="445.80" r="1.6" fill="#fff" stroke="#000" stroke-width="1"/>
<circle cx="274.00" cy="446.40" r="1.6" fill="#fff" stroke="#000" stroke-width="1"/>
<circle cx="280.00" cy="445.50" r="1.6" fill="#fff" stroke="#000" stroke-width="1"/>
<circle cx="285.00" cy="445.20" r="1.6" fill="#fff" stroke="#000" stroke-width="1"/>
<polyline points="44.70,456.73 46.90,457.18 49.10,456.77 51.30,457.09 53.50,457.03 55.70,455.62 57.90,455.14 60.10,456.23 62.30,454.54 64.50,453.84 66.70,454.55 68.90,453.03 71.10,453.12 73.30,452.11 75.50,452.29 77.70,451.30 79.90,452.07 82.10,452.34 84.30,451.55 86.50,451.78 88.70,451.49 90.90,450.23 93.10,451.32 95.30,450.87 97.50,450.20 99.70,449.57 101.90,450.93 104.10,450.08 106.30,450.39 108.50,450.64 110.70,450.31 112.90,450.64 115.10,449.66 117.30,450.35 119.50,449.68 121.70,450.52 123.90,450.38 126.10,448.94 128.30,448.97 130.50,449.09 132.70,450.45 134.90,449.51 137.10,449.87 139.30,449.29 141.50,449.68 143.70,449.47 145.90,449.42 148.10,449.86 150.30,449.87 152.50,450.46 154.70,450.07 156.90,450.53 159.10,450.41 161.30,450.66 163.50,450.10 165.70,449.25 167.90,450.66 170.10,451.01 172.30,451.07 174.50,450.63 176.70,450.91 178.90,449.82 181.10,450.75 183.30,450.10 185.50,449.39 187.70,448.81 189.90,450.05 192.10,450.11 194.30,448.32 196.50,449.42 198.70,448.54 200.90,447.90 203.10,447.97 205.30,448.65 207.50,448.65 209.70,446.98 211.90,447.82 214.10,446.69 216.30,447.81 218.50,447.01 220.70,447.90 222.90,447.99 225.10,447.03 227.30,447.90 229.50,446.66 231.70,446.24 233.90,447.18 236.10,446.16 238.30,446.46 240.50,446.83 242.70,447.20 244.90,446.38 247.10,446.18 249.30,447.66 251.50,446.65 253.70,447.79 255.90,447.65 258.10,446.70 260.30,446.83 262.50,446.91 264.70,447.11 266.90,447.00 269.10,446.92 271.30,446.90 273.50,447.29 275.70,446.32 277.90,445.99 280.10,446.32 282.30,445.26 284.50,445.19" fill="none" stroke="#000" stroke-width="1.4"/>
<circle cx="44.70" cy="456.73" r="2.0" fill="#000"/>
<circle cx="46.90" cy="457.18" r="2.0" fill="#000"/>
<circle cx="49.10" cy="456.77" r="2.0" fill="#000"/>
<circle cx="51.30" cy="457.09" r="2.0" fill="#000"/>
<circle cx="53.50" cy="457.03" r="2.0" fill="#000"/>
<circle cx="55.70" cy="455.62" r="2.0" fill="#000"/>
<circle cx="57.90" cy="455.14" r="2.0" fill="#000"/>
<circle cx="60.10" cy="456.23" r="2.0" fill="#000"/>
<circle cx="62.30" cy="454.54" r="2.0" fill="#000"/>
<circle cx="64.50" cy="453.84" r="2.0" fill="#000"/>
<circle cx="66.70" cy="454.55" r="2.0" fill="#000"/>
<circle cx="68.90" cy="453.03" r="2.0" fill="#000"/>
<circle cx="71.10" cy="453.12" r="2.0" fill="#000"/>
<circle cx="73.30" cy="452.11" r="2.0" fill="#000"/>
<circle cx="75.50" cy="452.29" r="2.0" fill="#000"/>
<circle cx="77.70" cy="451.30" r="2.0" fill="#000"/>
<circle cx="79.90" cy="452.07" r="2.0" fill="#000"/>
<circle cx="82.10" cy="452.34" r="2.0" fill="#000"/>
<circle cx="84.30" cy="451.55" r="2.0" fill="#000"/>
<circle cx="86.50" cy="451.78" r="2.0" fill="#000"/>
<circle cx="88.70" cy="451.49" r="2.0" fill="#000"/>
<circle cx="90.90" cy="450.23" r="2.0" fill="#000"/>
<circle cx="93.10" cy="451.32" r="2.0" fill="#000"/>
<circle cx="95.30" cy="450.87" r="2.0" fill="#000"/>
<circle cx="97.50" cy="450.20" r="2.0" fill="#000"/>
<circle cx="99.70" cy="449.57" r="2.0" fill="#000"/>
<circle cx="101.90" cy="450.93" r="2.0" fill="#000"/>
<circle cx="104.10" cy="450.08" r="2.0" fill="#000"/>
<circle cx="106.30" cy="450.39" r="2.0" fill="#000"/>
<circle cx="108.50" cy="450.64" r="2.0" fill="#000"/>
<circle cx="110.70" cy="450.31" r="2.0" fill="#000"/>
<circle cx="112.90" cy="450.64" r="2.0" fill="#000"/>
<circle cx="115.10" cy="449.66" r="2.0" fill="#000"/>
<circle cx="117.30" cy="450.35" r="2.0" fill="#000"/>
<circle cx="119.50" cy="449.68" r="2.0" fill="#000"/>
<circle cx="121.70" cy="450.52" r="2.0" fill="#000"/>
<circle cx="123.90" cy="450.38" r="2.0" fill="#000"/>
<circle cx="126.10" cy="448.94" r="2.0" fill="#000"/>
<circle cx="128.30" cy="448.97" r="2.0" fill="#000"/>
<circle cx="130.50" cy="449.09" r="2.0" fill="#000"/>
<circle cx="132.70" cy="450.45" r="2.0" fill="#000"/>
<circle cx="134.90" cy="449.51" r="2.0" fill="#000"/>
<circle cx="137.10" cy="449.87" r="2.0" fill="#000"/>
<circle cx="139.30" cy="449.29" r="2.0" fill="#000"/>
<circle cx="141.50" cy="449.68" r="2.0" fill="#000"/>
<circle cx="143.70" cy="449.47" r="2.0" fill="#000"/>
<circle cx="145.90" cy="449.42" r="2.0" fill="#000"/>
<circle cx="148.10" cy="449.86" r="2.0" fill="#000"/>
<circle cx="150.30" cy="449.87" r="2.0" fill="#000"/>
<circle cx="152.50" cy="450.46" r="2.0" fill="#000"/>
<circle cx="154.70" cy="450.07" r="2.0" fill="#000"/>
<circle cx="156.90" cy="450.53" r="2.0" fill="#000"/>
<circle cx="159.10" cy="450.41" r="2.0" fill="#000"/>
<circle cx="161.30" cy="450.66" r="2.0" fill="#000"/>
<circle cx="163.50" cy="450.10" r="2.0" fill="#000"/>
<circle cx="165.70" cy="449.25" r="2.0" fill="#000"/>
<circle cx="167.90" cy="450.66" r="2.0" fill="#000"/>
<circle cx="170.10" cy="451.01" r="2.0" fill="#000"/>
<circle cx="172.30" cy="451.07" r="2.0" fill="#000"/>
<circle cx="174.50" cy="450.63" r="2.0" fill="#000"/>
<circle cx="176.70" cy="450.91" r="2.0" fill="#000"/>
<circle cx="178.90" cy="449.82" r="2.0" fill="#000"/>
<circle cx="181.10" cy="450.75" r="2.0" fill="#000"/>
<circle cx="183.30" cy="450.10" r="2.0" fill="#000"/>
<circle cx="185.50" cy="449.39" r="2.0" fill="#000"/>
<circle cx="187.70" cy="448.81" r="2.0" fill="#000"/>
<circle cx="189.90" cy="450.05" r="2.0" fill="#000"/>
<circle cx="192.10" cy="450.11" r="2.0" fill="#000"/>
<circle cx="194.30" cy="448.32" r="2.0" fill="#000"/>
<circle cx="196.50" cy="449.42" r="2.0" fill="#000"/>
<circle cx="198.70" cy="448.54" r="2.0" fill="#000"/>
<circle cx="200.90" cy="447.90" r="2.0" fill="#000"/>
<circle cx="203.10" cy="447.97" r="2.0" fill="#000"/>
<circle cx="205.30" cy="448.65" r="2.0" fill="#000"/>
<circle cx="207.50" cy="448.65" r="2.0" fill="#000"/>
<circle cx="209.70" cy="446.98" r="2.0" fill="#000"/>
<circle cx="211.90" cy="447.82" r="2.0" fill="#000"/>
<circle cx="214.10" cy="446.69" r="2.0" fill="#000"/>
<circle cx="216.30" cy="447.81" r="2.0" fill="#000"/>
<circle cx="218.50" cy="447.01" r="2.0" fill="#000"/>
<circle cx="220.70" cy="447.90" r="2.0" fill="#000"/>
<circle cx="222.90" cy="447.99" r="2.0" fill="#000"/>
<circle cx="225.10" cy="447.03" r="2.0" fill="#000"/>
<circle cx="227.30" cy="447.90" r="2.0" fill="#000"/>
<circle cx="229.50" cy="446.66" r="2.0" fill="#000"/>
<circle cx="231.70" cy="446.24" r="2.0" fill="#000"/>
<circle cx="233.90" cy="447.18" r="2.0" fill="#000"/>
<circle cx="236.10" cy="446.16" r="2.0" fill="#000"/>
<circle cx="238.30" cy="446.46" r="2.0" fill="#000"/>
<circle cx="240.50" cy="446.83" r="2.0" fill="#000"/>
<circle cx="242.70" cy="447.20" r="2.0" fill="#000"/>
<circle cx="244.90" cy="446.38" r="2.0" fill="#000"/>
<circle cx="247.10" cy="446.18" r="2.0" fill="#000"/>
<circle cx="249.30" cy="447.66" r="2.0" fill="#000"/>
<circle cx="251.50" cy="446.65" r="2.0" fill="#000"/>
<circle cx="253.70" cy="447.79" r="2.0" fill="#000"/>
<circle cx="255.90" cy="447.65" r="2.0" fill="#000"/>
<circle cx="258.10" cy="446.70" r="2.0" fill="#000"/>
<circle cx="260.30" cy="446.83" r="2.0" fill="#000"/>
<circle cx="262.50" cy="446.91" r="2.0" fill="#000"/>
<circle cx="264.70" cy="447.11" r="2.0" fill="#000"/>
<circle cx="266.90" cy="447.00" r="2.0" fill="#000"/>
<circle cx="269.10" cy="446.92" r="2.0" fill="#000"/>
<circle cx="271.30" cy="446.90" r="2.0" fill="#000"/>
<circle cx="273.50" cy="447.29" r="2.0" fill="#000"/>
<circle cx="275.70" cy="446.32" r="2.0" fill="#000"/>
<circle cx="277.90" cy="445.99" r="2.0" fill="#000"/>
<circle cx="280.10" cy="446.32" r="2.0" fill="#000"/>
<circle cx="282.30" cy="445.26" r="2.0" fill="#000"/>
<circle cx="284.50" cy="445.19" r="2.0" fill="#000"/>
<text x="307.30" y="220.30" font-size="16.5" text-anchor="start" font-weight="bold" >D</text>
<line x1="362.30" y1="230.40" x2="362.30" y2="467.35" stroke="#000" stroke-width="1.5" />
<line x1="356.00" y1="466.75" x2="362.30" y2="466.75" stroke="#000" stroke-width="1.3" />
<text x="346.20" y="473.25" font-size="14" text-anchor="end" font-weight="normal" >10</text>
<text x="347.80" y="467.45" font-size="9" text-anchor="start" font-weight="normal" >6</text>
<line x1="356.00" y1="407.66" x2="362.30" y2="407.66" stroke="#000" stroke-width="1.3" />
<text x="346.20" y="414.16" font-size="14" text-anchor="end" font-weight="normal" >10</text>
<text x="347.80" y="408.36" font-size="9" text-anchor="start" font-weight="normal" >7</text>
<line x1="356.00" y1="348.57" x2="362.30" y2="348.57" stroke="#000" stroke-width="1.3" />
<text x="346.20" y="355.07" font-size="14" text-anchor="end" font-weight="normal" >10</text>
<text x="347.80" y="349.27" font-size="9" text-anchor="start" font-weight="normal" >8</text>
<line x1="356.00" y1="289.49" x2="362.30" y2="289.49" stroke="#000" stroke-width="1.3" />
<text x="346.20" y="295.99" font-size="14" text-anchor="end" font-weight="normal" >10</text>
<text x="347.80" y="290.19" font-size="9" text-anchor="start" font-weight="normal" >9</text>
<line x1="356.00" y1="230.40" x2="362.30" y2="230.40" stroke="#000" stroke-width="1.3" />
<text x="343.00" y="236.90" font-size="14" text-anchor="end" font-weight="normal" >10</text>
<text x="343.20" y="231.10" font-size="9" text-anchor="start" font-weight="normal" >10</text>
<line x1="359.00" y1="448.96" x2="362.30" y2="448.96" stroke="#000" stroke-width="1.1" />
<line x1="359.00" y1="438.56" x2="362.30" y2="438.56" stroke="#000" stroke-width="1.1" />
<line x1="359.00" y1="431.18" x2="362.30" y2="431.18" stroke="#000" stroke-width="1.1" />
<line x1="359.00" y1="425.45" x2="362.30" y2="425.45" stroke="#000" stroke-width="1.1" />
<line x1="359.00" y1="420.77" x2="362.30" y2="420.77" stroke="#000" stroke-width="1.1" />
<line x1="359.00" y1="416.82" x2="362.30" y2="416.82" stroke="#000" stroke-width="1.1" />
<line x1="359.00" y1="413.39" x2="362.30" y2="413.39" stroke="#000" stroke-width="1.1" />
<line x1="359.00" y1="410.37" x2="362.30" y2="410.37" stroke="#000" stroke-width="1.1" />
<line x1="359.00" y1="389.88" x2="362.30" y2="389.88" stroke="#000" stroke-width="1.1" />
<line x1="359.00" y1="379.47" x2="362.30" y2="379.47" stroke="#000" stroke-width="1.1" />
<line x1="359.00" y1="372.09" x2="362.30" y2="372.09" stroke="#000" stroke-width="1.1" />
<line x1="359.00" y1="366.36" x2="362.30" y2="366.36" stroke="#000" stroke-width="1.1" />
<line x1="359.00" y1="361.68" x2="362.30" y2="361.68" stroke="#000" stroke-width="1.1" />
<line x1="359.00" y1="357.73" x2="362.30" y2="357.73" stroke="#000" stroke-width="1.1" />
<line x1="359.00" y1="354.30" x2="362.30" y2="354.30" stroke="#000" stroke-width="1.1" />
<line x1="359.00" y1="351.28" x2="362.30" y2="351.28" stroke="#000" stroke-width="1.1" />
<line x1="359.00" y1="330.79" x2="362.30" y2="330.79" stroke="#000" stroke-width="1.1" />
<line x1="359.00" y1="320.38" x2="362.30" y2="320.38" stroke="#000" stroke-width="1.1" />
<line x1="359.00" y1="313.00" x2="362.30" y2="313.00" stroke="#000" stroke-width="1.1" />
<line x1="359.00" y1="307.27" x2="362.30" y2="307.27" stroke="#000" stroke-width="1.1" />
<line x1="359.00" y1="302.60" x2="362.30" y2="302.60" stroke="#000" stroke-width="1.1" />
<line x1="359.00" y1="298.64" x2="362.30" y2="298.64" stroke="#000" stroke-width="1.1" />
<line x1="359.00" y1="295.21" x2="362.30" y2="295.21" stroke="#000" stroke-width="1.1" />
<line x1="359.00" y1="292.19" x2="362.30" y2="292.19" stroke="#000" stroke-width="1.1" />
<line x1="359.00" y1="271.70" x2="362.30" y2="271.70" stroke="#000" stroke-width="1.1" />
<line x1="359.00" y1="261.30" x2="362.30" y2="261.30" stroke="#000" stroke-width="1.1" />
<line x1="359.00" y1="253.91" x2="362.30" y2="253.91" stroke="#000" stroke-width="1.1" />
<line x1="359.00" y1="248.19" x2="362.30" y2="248.19" stroke="#000" stroke-width="1.1" />
<line x1="359.00" y1="243.51" x2="362.30" y2="243.51" stroke="#000" stroke-width="1.1" />
<line x1="359.00" y1="239.55" x2="362.30" y2="239.55" stroke="#000" stroke-width="1.1" />
<line x1="359.00" y1="236.13" x2="362.30" y2="236.13" stroke="#000" stroke-width="1.1" />
<line x1="359.00" y1="233.10" x2="362.30" y2="233.10" stroke="#000" stroke-width="1.1" />
<line x1="361.50" y1="466.75" x2="518.50" y2="466.75" stroke="#000" stroke-width="1.5" />
<line x1="400.80" y1="466.90" x2="400.80" y2="473.00" stroke="#000" stroke-width="1.3" />
<line x1="478.80" y1="466.90" x2="478.80" y2="473.00" stroke="#000" stroke-width="1.3" />
<text x="400.60" y="488.90" font-size="14" text-anchor="middle" font-weight="normal" >Normal</text>
<text x="478.40" y="488.90" font-size="14" text-anchor="middle" font-weight="normal" >AML</text>
<text x="329.40" y="348.40" font-size="12.7" text-anchor="middle" font-weight="normal" transform="rotate(-90 329.4 348.4)">Total superoxide production</text>
<polyline points="397.6,379 397.6,243.3 475.5,243.3 475.5,262.5" fill="none" stroke="#000" stroke-width="1.3"/>
<line x1="436.80" y1="229.20" x2="436.80" y2="236.00" stroke="#111" stroke-width="1.5" stroke-linecap="round"/>
<line x1="433.86" y1="230.90" x2="439.74" y2="234.30" stroke="#111" stroke-width="1.5" stroke-linecap="round"/>
<line x1="433.86" y1="234.30" x2="439.74" y2="230.90" stroke="#111" stroke-width="1.5" stroke-linecap="round"/>
<line x1="374.00" y1="389.40" x2="420.50" y2="389.40" stroke="#000" stroke-width="2" stroke-dasharray="6,5"/>
<line x1="374.00" y1="434.50" x2="420.50" y2="434.50" stroke="#000" stroke-width="2" stroke-dasharray="6,5"/>
<line x1="374.40" y1="408.00" x2="427.60" y2="408.00" stroke="#000" stroke-width="2.6" />
<circle cx="387.2" cy="395.1" r="4.5" fill="#000"/>
<circle cx="401.1" cy="399.5" r="4.5" fill="#000"/>
<circle cx="414.8" cy="397.5" r="4.5" fill="#000"/>
<circle cx="394.3" cy="405.6" r="4.5" fill="#000"/>
<circle cx="414.8" cy="407.6" r="4.5" fill="#000"/>
<circle cx="386.5" cy="412.3" r="4.5" fill="#000"/>
<circle cx="387.2" cy="415.7" r="4.5" fill="#000"/>
<circle cx="401.1" cy="413.6" r="4.5" fill="#000"/>
<circle cx="401.1" cy="427.8" r="4.5" fill="#000"/>
<circle cx="414.8" cy="425.1" r="4.5" fill="#000"/>
<circle cx="479" cy="275.4" r="3.95" fill="#fff" stroke="#000" stroke-width="1.05"/>
<circle cx="479" cy="306.1" r="3.95" fill="#fff" stroke="#000" stroke-width="1.05"/>
<circle cx="492.7" cy="304.9" r="3.95" fill="#fff" stroke="#000" stroke-width="1.05"/>
<circle cx="465.2" cy="322.1" r="3.95" fill="#fff" stroke="#000" stroke-width="1.05"/>
<circle cx="472.3" cy="319.2" r="3.95" fill="#fff" stroke="#000" stroke-width="1.05"/>
<circle cx="479" cy="323.2" r="3.95" fill="#fff" stroke="#000" stroke-width="1.05"/>
<circle cx="492.7" cy="320" r="3.95" fill="#fff" stroke="#000" stroke-width="1.05"/>
<circle cx="465.6" cy="336" r="3.95" fill="#fff" stroke="#000" stroke-width="1.05"/>
<circle cx="485.9" cy="332.8" r="3.95" fill="#fff" stroke="#000" stroke-width="1.05"/>
<circle cx="492.7" cy="340" r="3.95" fill="#fff" stroke="#000" stroke-width="1.05"/>
<circle cx="479" cy="343.1" r="3.95" fill="#fff" stroke="#000" stroke-width="1.05"/>
<circle cx="459" cy="352.3" r="3.95" fill="#fff" stroke="#000" stroke-width="1.05"/>
<circle cx="465.6" cy="360.7" r="3.95" fill="#fff" stroke="#000" stroke-width="1.05"/>
<circle cx="472.6" cy="357.2" r="3.95" fill="#fff" stroke="#000" stroke-width="1.05"/>
<circle cx="479.2" cy="362.8" r="3.95" fill="#fff" stroke="#000" stroke-width="1.05"/>
<circle cx="485.7" cy="356.5" r="3.95" fill="#fff" stroke="#000" stroke-width="1.05"/>
<circle cx="493.1" cy="358.6" r="3.95" fill="#fff" stroke="#000" stroke-width="1.05"/>
<circle cx="459" cy="363.5" r="3.95" fill="#fff" stroke="#000" stroke-width="1.05"/>
<circle cx="499.4" cy="367.4" r="3.95" fill="#fff" stroke="#000" stroke-width="1.05"/>
<circle cx="465.2" cy="371.1" r="3.95" fill="#fff" stroke="#000" stroke-width="1.05"/>
<circle cx="472.2" cy="369.7" r="3.95" fill="#fff" stroke="#000" stroke-width="1.05"/>
<circle cx="485.7" cy="369.7" r="3.95" fill="#fff" stroke="#000" stroke-width="1.05"/>
<circle cx="493.1" cy="373.9" r="3.95" fill="#fff" stroke="#000" stroke-width="1.05"/>
<circle cx="479.2" cy="377.4" r="3.95" fill="#fff" stroke="#000" stroke-width="1.05"/>
<circle cx="495.9" cy="380.2" r="3.95" fill="#fff" stroke="#000" stroke-width="1.05"/>
<circle cx="462.4" cy="382.7" r="3.95" fill="#fff" stroke="#000" stroke-width="1.05"/>
<circle cx="459" cy="388.6" r="3.95" fill="#fff" stroke="#000" stroke-width="1.05"/>
<circle cx="465.9" cy="392.8" r="3.95" fill="#fff" stroke="#000" stroke-width="1.05"/>
<circle cx="475.4" cy="387.2" r="3.95" fill="#fff" stroke="#000" stroke-width="1.05"/>
<circle cx="483.4" cy="385.8" r="3.95" fill="#fff" stroke="#000" stroke-width="1.05"/>
<circle cx="492.4" cy="390" r="3.95" fill="#fff" stroke="#000" stroke-width="1.05"/>
<circle cx="500.1" cy="387.9" r="3.95" fill="#fff" stroke="#000" stroke-width="1.05"/>
<circle cx="499.4" cy="395.6" r="3.95" fill="#fff" stroke="#000" stroke-width="1.05"/>
<circle cx="472.2" cy="395.6" r="3.95" fill="#fff" stroke="#000" stroke-width="1.05"/>
<circle cx="479.9" cy="395.6" r="3.95" fill="#fff" stroke="#000" stroke-width="1.05"/>
<circle cx="472.9" cy="390.7" r="3.95" fill="#fff" stroke="#000" stroke-width="1.05"/>
<circle cx="465.2" cy="401.9" r="3.95" fill="#fff" stroke="#000" stroke-width="1.05"/>
<circle cx="486.1" cy="400.5" r="3.95" fill="#fff" stroke="#000" stroke-width="1.05"/>
<circle cx="492.4" cy="406.7" r="3.95" fill="#fff" stroke="#000" stroke-width="1.05"/>
<circle cx="479.2" cy="408.8" r="3.95" fill="#fff" stroke="#000" stroke-width="1.05"/>
<circle cx="495.9" cy="413" r="3.95" fill="#fff" stroke="#000" stroke-width="1.05"/>
<circle cx="462.4" cy="417.2" r="3.95" fill="#fff" stroke="#000" stroke-width="1.05"/>
<circle cx="457.6" cy="421.4" r="3.95" fill="#fff" stroke="#000" stroke-width="1.05"/>
<circle cx="475" cy="418.6" r="3.95" fill="#fff" stroke="#000" stroke-width="1.05"/>
<circle cx="482.7" cy="418.6" r="3.95" fill="#fff" stroke="#000" stroke-width="1.05"/>
<circle cx="492.4" cy="422.8" r="3.95" fill="#fff" stroke="#000" stroke-width="1.05"/>
<circle cx="499.4" cy="420.7" r="3.95" fill="#fff" stroke="#000" stroke-width="1.05"/>
<circle cx="465.2" cy="424.9" r="3.95" fill="#fff" stroke="#000" stroke-width="1.05"/>
<circle cx="479.2" cy="423.5" r="3.95" fill="#fff" stroke="#000" stroke-width="1.05"/>
<circle cx="482.7" cy="429.1" r="3.95" fill="#fff" stroke="#000" stroke-width="1.05"/>
<circle cx="458.2" cy="431.1" r="3.95" fill="#fff" stroke="#000" stroke-width="1.05"/>
<circle cx="472.2" cy="433.9" r="3.95" fill="#fff" stroke="#000" stroke-width="1.05"/>
<circle cx="486.1" cy="436" r="3.95" fill="#fff" stroke="#000" stroke-width="1.05"/>
<circle cx="499.4" cy="431.1" r="3.95" fill="#fff" stroke="#000" stroke-width="1.05"/>
<circle cx="465.2" cy="438.8" r="3.95" fill="#fff" stroke="#000" stroke-width="1.05"/>
<circle cx="479.2" cy="439.5" r="3.95" fill="#fff" stroke="#000" stroke-width="1.05"/>
<circle cx="492.4" cy="439.5" r="3.95" fill="#fff" stroke="#000" stroke-width="1.05"/>
<line x1="452.70" y1="350.20" x2="505.70" y2="350.20" stroke="#000" stroke-width="2.6" />
</svg>
</body></html>
